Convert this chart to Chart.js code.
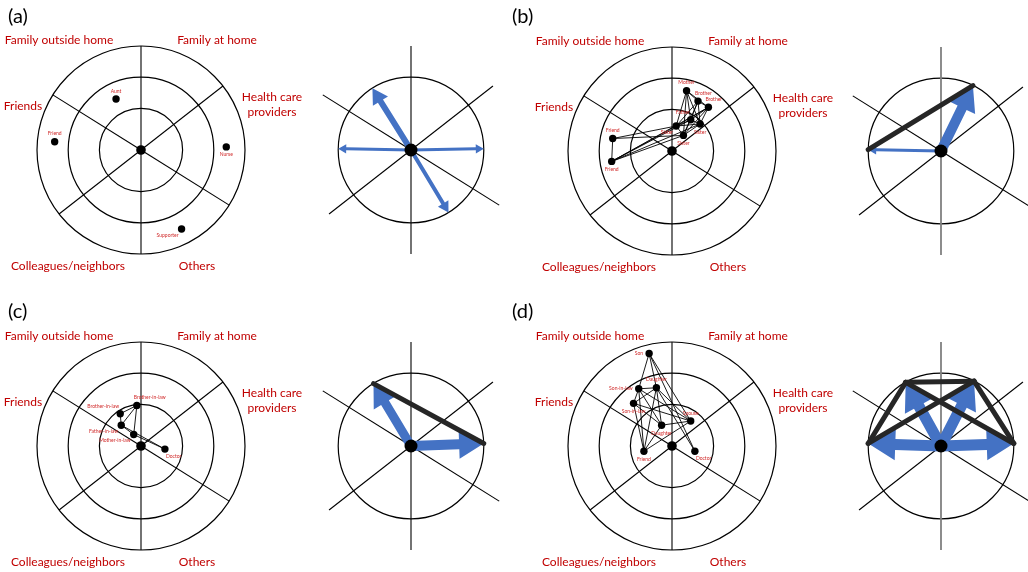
<!DOCTYPE html>
<html>
<head>
<meta charset="utf-8">
<script src="https://cdn.jsdelivr.net/npm/chart.js@4.4.1/dist/chart.umd.min.js"></script>
<style>
  html, body { margin: 0; padding: 0; background: #ffffff; }
  #wrap { width: 1028px; height: 572px; position: relative; }
</style>
</head>
<body>
<div id="wrap"><canvas id="convoy" width="1028" height="572"></canvas></div>
<script>
// ---- Convoy model: six sectors, three rings of closeness ----
const categories = ['Family outside home', 'Family at home', 'Friends',
                    'Health care providers', 'Colleagues/neighbors', 'Others'];
const spokeAngles = [38, 90, 148, 218, 270, 328];   // sector boundaries, degrees CCW from east
const ringRadii = [0.40, 0.70, 1.00];                // relative to the outer ring
const summaryRing = 0.70;                            // ring kept in the summary diagrams

// ---- (a) ----
const namesA = ['Aunt', 'Friend', 'Nurse', 'Supporter'];
const xA = [-0.24, -0.83, 0.82, 0.39];
const yA = [0.49, 0.08, 0.03, -0.76];
const edgesA = [];
const arrowDirA = [122, 179, 1, -59];
const arrowStrengthA = [6, 3, 3, 4];
const tiesA = [];

// ---- (b) ----
const namesB = ['Mother', 'Brother', 'Brother', 'Father', 'Sister', 'Sister', 'Sister', 'Friend', 'Friend'];
const xB = [0.14, 0.25, 0.35, 0.18, 0.04, 0.27, 0.11, -0.57, -0.58];
const yB = [0.58, 0.48, 0.42, 0.30, 0.24, 0.26, 0.15, 0.12, -0.10];
const edgesB = [
  [0,1],[0,2],[0,3],[0,4],[0,5],[0,6],[1,2],[1,3],[1,4],[1,5],[1,6],
  [2,3],[2,4],[2,5],[2,6],[3,4],[3,5],[3,6],[4,5],[4,6],[5,6],
  [7,8],[7,4],[7,6],[8,4],[8,6],[8,3],[8,5],[8,2]
];
const arrowDirB = [64, 179];
const arrowStrengthB = [10, 3];
const tiesB = [[0,1]];

// ---- (c) ----
const namesC = ['Brother-in-law', 'Brother-in-law', 'Father-in-law', 'Mother-in-law', 'Doctor'];
const xC = [-0.04, -0.20, -0.19, -0.07, 0.23];
const yC = [0.39, 0.31, 0.20, 0.11, -0.03];
const edgesC = [[0,1],[0,2],[0,3],[1,2],[2,3],[2,4],[3,4]];
const arrowDirC = [121, 2];
const arrowStrengthC = [9, 10];
const tiesC = [[0,1]];

// ---- (d) ----
const namesD = ['Son', 'Daughter', 'Son-in-law', 'Son-in-law', 'Spouse', 'Daughter', 'Friend', 'Doctor'];
const xD = [-0.22, -0.15, -0.32, -0.37, 0.18, -0.10, -0.27, 0.22];
const yD = [0.89, 0.56, 0.55, 0.41, 0.24, 0.20, -0.05, -0.05];
const edgesD = [
  [0,1],[0,2],[0,4],[0,7],[1,2],[1,3],[1,4],[1,5],[1,6],[1,7],
  [2,3],[2,4],[2,5],[2,6],[3,4],[3,5],[3,6],[4,5],[4,6],[5,6]
];
const arrowDirD = [119, 63, 178, 2];
const arrowStrengthD = [11, 11, 11, 11];
const tiesD = [[0,1],[0,2],[1,3],[0,3],[1,2]];

// ---- layout ----
const UNIT = 104;   // pixels per outer-ring radius
const placeA = ['n', 'n', 's', 'sw'];
const placeB = ['n', 'ne', 'ne', 'nw', 'sw', 's', 's', 'n', 's'];
const placeC = ['ne', 'nw', 'sw', 'sw', 'se'];
const placeD = ['w', 'n', 'w', 's', 'n', 's', 's', 'se'];

const panels = [
  { letter: '(a)', letterPos: [8, 17],  big: [141, 150], small: [411, 150], greyAxis: false,
    names: namesA, xs: xA, ys: yA, place: placeA, edges: edgesA, dirs: arrowDirA, strength: arrowStrengthA, ties: tiesA },
  { letter: '(b)', letterPos: [512, 17], big: [672, 151], small: [941, 151], greyAxis: true,
    names: namesB, xs: xB, ys: yB, place: placeB, edges: edgesB, dirs: arrowDirB, strength: arrowStrengthB, ties: tiesB },
  { letter: '(c)', letterPos: [8, 312], big: [141, 446], small: [411, 446], greyAxis: false,
    names: namesC, xs: xC, ys: yC, place: placeC, edges: edgesC, dirs: arrowDirC, strength: arrowStrengthC, ties: tiesC },
  { letter: '(d)', letterPos: [512, 312], big: [672, 446], small: [941, 446], greyAxis: true,
    names: namesD, xs: xD, ys: yD, place: placeD, edges: edgesD, dirs: arrowDirD, strength: arrowStrengthD, ties: tiesD }
];

// category captions around each large diagram (offsets from its centre, px)
const captionLayout = [
  { lines: ['Family outside home'], dx: -82, dy: -110 },
  { lines: ['Family at home'],      dx: 76,  dy: -110 },
  { lines: ['Friends'],             dx: -118, dy: -44 },
  { lines: ['Health care', 'providers'], dx: 131, dy: -53 },
  { lines: ['Colleagues/neighbors'], dx: -73, dy: 116 },
  { lines: ['Others'],              dx: 56,  dy: 116 }
];

const RED = '#C00000';
const BLUE = '#4472C4';
const CAPTION_FONT = '12px Lato, "Open Sans", sans-serif';
const NODE_FONT = '5px Lato, "Liberation Sans", sans-serif';

// value-space helpers
const toValue = (c, u, v) => ({ x: c[0] + u * UNIT, y: c[1] - v * UNIT });
const polarValue = (c, deg, r) => toValue(c, r * Math.cos(deg * Math.PI / 180), r * Math.sin(deg * Math.PI / 180));

// ---- datasets ----
const datasets = [];
panels.forEach(p => {
  const pts = p.xs.map((u, i) => toValue(p.big, u, p.ys[i]));
  p.edges.forEach(([i, j]) => datasets.push({
    data: [pts[i], pts[j]], showLine: true, borderColor: '#000', borderWidth: 0.9,
    pointRadius: 0, order: 4
  }));
  datasets.push({ data: pts, pointRadius: 3.7, pointBackgroundColor: '#000', pointBorderWidth: 0, order: 1 });
  datasets.push({ data: [toValue(p.big, 0, 0)], pointRadius: 4.8, pointBackgroundColor: '#000', pointBorderWidth: 0, order: 1 });

  const tips = p.dirs.map(d => polarValue(p.small, d, summaryRing));
  p.ties.forEach(([i, j]) => datasets.push({
    data: [tips[i], tips[j]], showLine: true, borderColor: '#262626', borderWidth: 5,
    borderCapStyle: 'round', pointRadius: 0, order: 2
  }));
  datasets.push({ data: [toValue(p.small, 0, 0)], pointRadius: 6.5, pointBackgroundColor: '#000', pointBorderWidth: 0, order: 0 });
});

// ---- drawing helpers ----
function pix(chart, v) {
  return [chart.scales.x.getPixelForValue(v.x), chart.scales.y.getPixelForValue(v.y)];
}
function radiusPx(chart, c, r) {
  return chart.scales.x.getPixelForValue(c[0] + r * UNIT) - chart.scales.x.getPixelForValue(c[0]);
}

function drawSpokes(ctx, chart, c, greyAxis) {
  const [cx, cy] = pix(chart, toValue(c, 0, 0));
  spokeAngles.forEach(a => {
    const [ex, ey] = pix(chart, polarValue(c, a, 1));
    const vertical = (a === 90 || a === 270);
    ctx.strokeStyle = (greyAxis && vertical) ? '#808080' : '#000';
    ctx.lineWidth = (greyAxis && vertical) ? 1.8 : 1.1;
    ctx.beginPath(); ctx.moveTo(cx, cy); ctx.lineTo(ex, ey); ctx.stroke();
  });
}
function drawRing(ctx, chart, c, r) {
  const [cx, cy] = pix(chart, toValue(c, 0, 0));
  ctx.strokeStyle = '#000'; ctx.lineWidth = 1.2;
  ctx.beginPath(); ctx.arc(cx, cy, radiusPx(chart, c, r), 0, Math.PI * 2); ctx.stroke();
}
function drawArrow(ctx, chart, c, deg, strength) {
  const [x0, y0] = pix(chart, toValue(c, 0, 0));
  const [tx, ty] = pix(chart, polarValue(c, deg, summaryRing));
  const len = Math.hypot(tx - x0, ty - y0);
  const dx = (tx - x0) / len, dy = (ty - y0) / len;
  const nx = -dy, ny = dx;
  const w = strength, hw = 2.8 * strength + 1, hl = Math.min(0.85 * hw, len * 0.5);
  const bx = tx - dx * hl, by = ty - dy * hl;
  ctx.fillStyle = BLUE;
  ctx.beginPath();
  ctx.moveTo(x0 + nx * w / 2, y0 + ny * w / 2);
  ctx.lineTo(bx + nx * w / 2, by + ny * w / 2);
  ctx.lineTo(bx + nx * hw / 2, by + ny * hw / 2);
  ctx.lineTo(tx, ty);
  ctx.lineTo(bx - nx * hw / 2, by - ny * hw / 2);
  ctx.lineTo(bx - nx * w / 2, by - ny * w / 2);
  ctx.lineTo(x0 - nx * w / 2, y0 - ny * w / 2);
  ctx.closePath();
  ctx.fill();
}

const convoyBackdrop = {
  id: 'convoyBackdrop',
  beforeDatasetsDraw(chart) {
    const ctx = chart.ctx;
    ctx.save();
    panels.forEach(p => {
      ringRadii.forEach(r => drawRing(ctx, chart, p.big, r));
      drawSpokes(ctx, chart, p.big, false);
      drawRing(ctx, chart, p.small, summaryRing);
      drawSpokes(ctx, chart, p.small, p.greyAxis);
      p.dirs.forEach((d, i) => drawArrow(ctx, chart, p.small, d, p.strength[i]));
    });
    ctx.restore();
  }
};

const convoyText = {
  id: 'convoyText',
  afterDatasetsDraw(chart) {
    const ctx = chart.ctx;
    ctx.save();
    panels.forEach(p => {
      // panel letter
      ctx.fillStyle = '#000';
      ctx.font = '20px Lato, "Open Sans", sans-serif';
      ctx.textAlign = 'left'; ctx.textBaseline = 'middle';
      const [lx, ly] = p.letterPos;
      ctx.fillText(p.letter, lx, ly);

      // sector captions
      ctx.fillStyle = RED;
      ctx.font = CAPTION_FONT;
      ctx.textAlign = 'center';
      const [cx, cy] = pix(chart, toValue(p.big, 0, 0));
      captionLayout.forEach(cap => {
        cap.lines.forEach((t, k) => ctx.fillText(t, cx + cap.dx, cy + cap.dy + k * 15));
      });

      // member labels
      ctx.font = NODE_FONT;
      ctx.fillStyle = '#D02828';
      p.names.forEach((name, i) => {
        const [x, y] = pix(chart, toValue(p.big, p.xs[i], p.ys[i]));
        const at = p.place[i];
        let tx = x, ty = y, align = 'center';
        if (at === 'n') { ty = y - 8; }
        else if (at === 's') { ty = y + 8; }
        else if (at === 'w') { tx = x - 6; align = 'right'; }
        else if (at === 'e') { tx = x + 6; align = 'left'; }
        else if (at === 'nw') { tx = x - 1; ty = y - 7; align = 'right'; }
        else if (at === 'sw') { tx = x - 3; ty = y + 6; align = 'right'; }
        else if (at === 'ne') { tx = x - 3; ty = y - 8; align = 'left'; }
        else if (at === 'se') { tx = x + 1; ty = y + 7; align = 'left'; }
        ctx.textAlign = align;
        ctx.fillText(name, tx, ty);
      });
    });
    ctx.restore();
  }
};

new Chart(document.getElementById('convoy'), {
  type: 'scatter',
  data: { datasets },
  options: {
    responsive: false,
    animation: false,
    devicePixelRatio: 1,
    events: [],
    layout: { padding: 0, autoPadding: false },
    scales: {
      x: { type: 'linear', min: 0, max: 1028, display: false },
      y: { type: 'linear', min: 0, max: 572, reverse: true, display: false }
    },
    plugins: { legend: { display: false }, tooltip: { enabled: false } }
  },
  plugins: [convoyBackdrop, convoyText]
});
</script>
</body>
</html>
